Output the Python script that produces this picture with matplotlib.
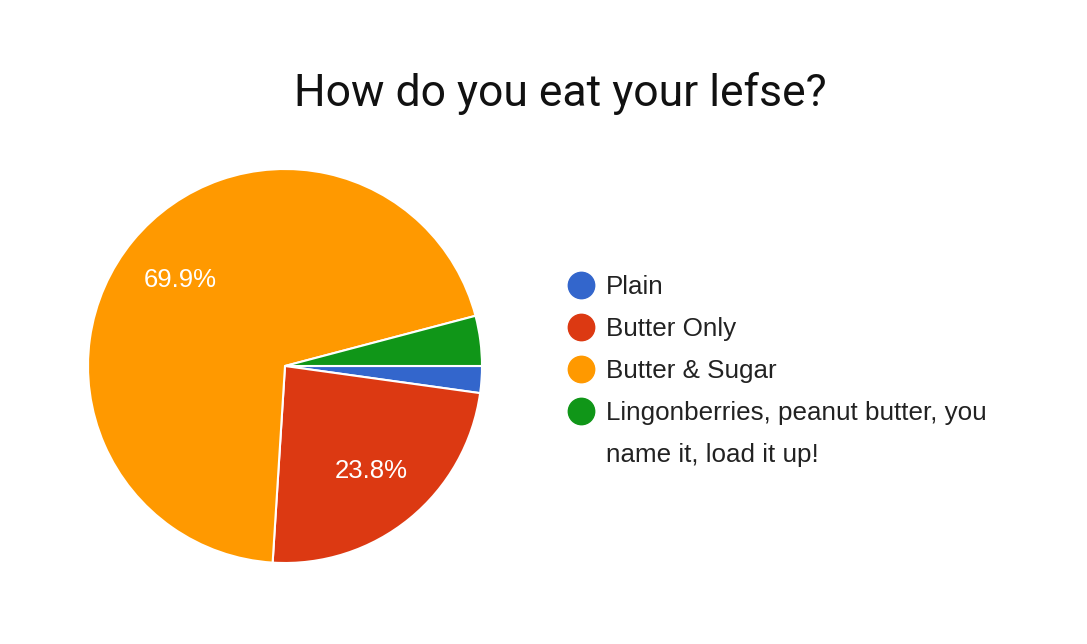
import matplotlib.pyplot as plt
from matplotlib.lines import Line2D

# Data
categories = ["Plain", "Butter Only", "Butter & Sugar",
              "Lingonberries, peanut butter, you\nname it, load it up!"]
shares = [2.2, 23.8, 69.9, 4.1]
colors = ["#3366cc", "#dc3912", "#ff9900", "#109618"]
title = "How do you eat your lefse?"

W, H = 1087, 644
fig = plt.figure(figsize=(W / 100, H / 100), dpi=100)
fig.patch.set_facecolor("white")

# pie axes: centre (285, 366), radius 197 px
cx, cy, r = 285, 366, 197
ax = fig.add_axes([(cx - r) / W, (H - cy - r) / H, 2 * r / W, 2 * r / H])


def fmt(p):
    return f"{p:.1f}%" if p >= 5 else ""


wedges, texts, autotexts = ax.pie(
    shares,
    colors=colors,
    startangle=0,
    counterclock=False,
    autopct=fmt,
    pctdistance=0.69,
    wedgeprops=dict(edgecolor="white", linewidth=1.5),
    textprops=dict(color="white", fontsize=18.5, family="Liberation Sans"),
)
ax.set_xlim(-1, 1)
ax.set_ylim(-1, 1)
ax.set_aspect("equal")

fig.text(560 / W, 1 - 106 / H, title, ha="center", va="baseline",
         fontsize=32, family="Roboto", color="#111111")

# legend drawn by hand so the wrapped label keeps its marker on the first line
row_y = [285, 327, 369, 411]
line_gap = 42
for y, lab, col in zip(row_y, categories, colors):
    fig.add_artist(Line2D([581 / W], [1 - y / H], marker="o", markersize=19,
                          color=col, linestyle="none", transform=fig.transFigure))
    for k, part in enumerate(lab.split("\n")):
        fig.text(606 / W, 1 - (y + 9 + k * line_gap) / H, part, ha="left",
                 va="baseline", fontsize=18.7, family="Liberation Sans",
                 color="#222222")

fig.savefig("out.png", dpi=100)
